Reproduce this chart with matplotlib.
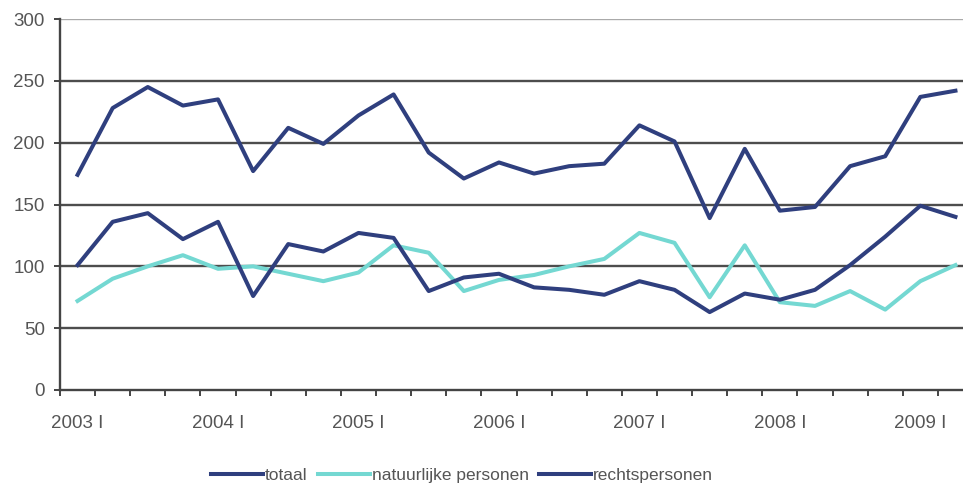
import matplotlib

matplotlib.use("Agg")
import matplotlib.pyplot as plt
import numpy as np

# ------------------------------------------------------------------ data

kwartalen = [f"{jaar} {q}" for jaar in range(2003, 2010) for q in ("I", "II", "III", "IV")][:26]

totaal = [174, 228, 245, 230, 235, 177, 212, 199, 222, 239, 192, 171, 184,
          175, 181, 183, 214, 201, 139, 195, 145, 148, 181, 189, 237, 242]
natuurlijke_personen = [72, 90, 100, 109, 98, 100, 94, 88, 95, 117, 111, 80, 89,
                        93, 100, 106, 127, 119, 75, 117, 71, 68, 80, 65, 88, 101]
rechtspersonen = [101, 136, 143, 122, 136, 76, 118, 112, 127, 123, 80, 91, 94,
                  83, 81, 77, 88, 81, 63, 78, 73, 81, 101, 124, 149, 140]

y_ticks = [0, 50, 100, 150, 200, 250, 300]

# ------------------------------------------------------------------ opmaak

plt.rcParams["font.family"] = ["Liberation Sans", "DejaVu Sans"]
DONKER = "#2f3f7e"
LICHT = "#74d8d2"
TEKST = "#555555"

fig = plt.figure(figsize=(9.63, 4.92), dpi=100)
ax = fig.add_axes([60 / 963, 1 - 390 / 492, 913 / 963, 371 / 492])

x = np.arange(len(kwartalen))
ax.plot(x, totaal, color=DONKER, lw=2.9, label="totaal", zorder=3)
ax.plot(x, natuurlijke_personen, color=LICHT, lw=2.9, label="natuurlijke personen", zorder=3)
ax.plot(x, rechtspersonen, color=DONKER, lw=2.9, label="rechtspersonen", zorder=3)

ax.set_xlim(-0.5, len(kwartalen) - 0.5)
ax.set_ylim(0, 300)

# horizontale rasterlijnen
for v in y_ticks[1:]:
    ax.axhline(v, color="#aaaaaa" if v == 300 else "#4d4d4d", lw=1.7, zorder=1)

ax.set_yticks(y_ticks)
ax.set_yticklabels([str(v) for v in y_ticks])
ax.tick_params(axis="y", length=4, width=1.4, color="#444444", pad=7,
               labelsize=13.5, labelcolor=TEKST)

ax.set_xticks(x[::4])
ax.set_xticklabels([kwartalen[i] for i in x[::4]])
ax.set_xticks(np.arange(-0.5, len(kwartalen) + 0.5, 1), minor=True)
ax.tick_params(axis="x", which="major", length=0, pad=18, labelsize=13.5, labelcolor=TEKST)
ax.tick_params(axis="x", which="minor", length=4, width=1.4, color="#444444")

for side in ("top", "right"):
    ax.spines[side].set_visible(False)
for side in ("left", "bottom"):
    ax.spines[side].set_color("#444444")
    ax.spines[side].set_linewidth(1.7)

fig.legend(loc="center", bbox_to_anchor=(462 / 963, 1 - 475 / 492), ncol=3,
           frameon=False, fontsize=12.5, handlelength=3.0, handletextpad=0.1,
           columnspacing=0.6, labelcolor=TEKST)

fig.savefig("out.png", dpi=100)
